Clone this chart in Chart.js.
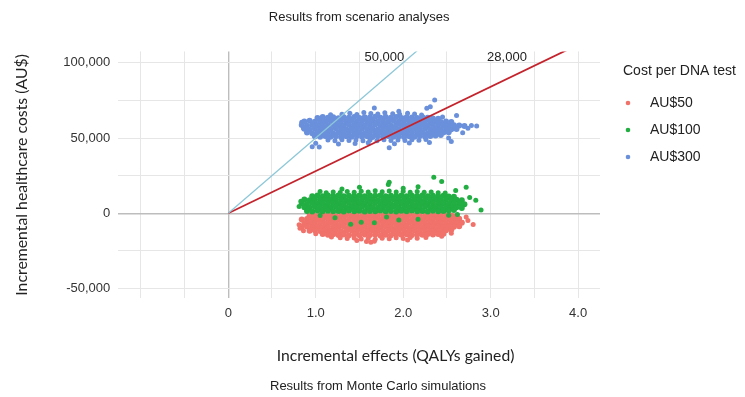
<!DOCTYPE html>
<html><head><meta charset="utf-8">
<script src="https://cdn.jsdelivr.net/npm/chart.js@4.4.1/dist/chart.umd.min.js"></script>
<style>html,body{margin:0;padding:0;background:#fff}#wrap{width:745px;height:397px}</style>
</head><body><div id="wrap"><canvas id="c" width="745" height="397"></canvas></div>
<script>
const chartTitle = 'Results from scenario analyses';
const chartCaption = 'Results from Monte Carlo simulations';
const xAxisTitle = 'Incremental effects (QALYs gained)';
const yAxisTitle = 'Incremental healthcare costs (AU$)';
const legendTitle = 'Cost per DNA test';
const seriesLabels = ['AU$50', 'AU$100', 'AU$300'];
const seriesColors = ['#F0726A', '#22AE42', '#6A90DC'];
const xTickValues = [0, 1, 2, 3, 4];
const xTickLabels = ['0', '1.0', '2.0', '3.0', '4.0'];
const yTickValues = [-50000, 0, 50000, 100000];
const yTickLabels = ['-50,000', '0', '50,000', '100,000'];
const wtpThresholds = [50000, 28000];
const wtpLabels = ['50,000', '28,000'];
const wtpColors = ['#8CC7D8', '#C4232C'];

// Monte Carlo points: [QALYs gained, incremental cost in thousand AU$]
// dense core of each cloud
const au50Core = [
[0.93,-1.4],[0.99,-1.8],[1.05,-1.3],[1.11,-1.7],[1.17,-1.4],[1.23,-1.9],[1.29,-1.5],[1.35,-1.2],[1.41,-1.7],[1.47,-1.4],[1.53,-1.8],[1.59,-1.3],[1.65,-1.6],[1.71,-1.2],[1.77,-1.7],[1.83,-1.4],[1.89,-1.8],[1.95,-1.3],[2.01,-1.6],[2.07,-1.2],[2.13,-1.7],[2.19,-1.4],[2.25,-1.8],[2.31,-1.3],[2.37,-1.6],[2.43,-1.2],[2.49,-1.7],[2.55,-1.4],[2.61,-1.8],
[0.84,-4.1],[0.90,-3.7],[0.96,-4.3],[1.02,-3.9],[1.08,-4.2],[1.14,-3.8],[1.20,-4.4],[1.26,-4.0],[1.32,-3.7],[1.38,-4.2],[1.44,-3.9],[1.50,-4.3],[1.56,-3.8],[1.62,-4.1],[1.68,-3.7],[1.74,-4.2],[1.80,-3.9],[1.86,-4.3],[1.92,-3.8],[1.98,-4.1],[2.04,-3.7],[2.10,-4.2],[2.16,-3.9],[2.22,-4.3],[2.28,-3.8],[2.34,-4.0],[2.40,-3.7],[2.46,-4.1],[2.52,-3.8],[2.58,-4.0],[2.64,-3.6],
[0.87,-6.6],[0.93,-6.2],[0.99,-6.8],[1.05,-6.4],[1.11,-6.7],[1.17,-6.3],[1.23,-6.9],[1.29,-6.5],[1.35,-6.2],[1.41,-6.8],[1.47,-6.4],[1.53,-6.7],[1.59,-6.3],[1.65,-6.6],[1.71,-6.9],[1.77,-6.4],[1.83,-6.7],[1.89,-6.2],[1.95,-6.6],[2.01,-6.8],[2.07,-6.3],[2.13,-6.7],[2.19,-6.4],[2.25,-6.8],[2.31,-6.3],[2.37,-6.6],[2.43,-6.4],[2.49,-6.7],[2.55,-6.2],[2.61,-6.5],[2.67,-6.3],
[0.84,-9.1],[0.90,-8.7],[0.96,-9.3],[1.02,-8.9],[1.08,-9.2],[1.14,-8.8],[1.20,-9.4],[1.26,-9.0],[1.32,-8.7],[1.38,-9.2],[1.44,-8.9],[1.50,-9.3],[1.56,-8.8],[1.62,-9.1],[1.68,-8.7],[1.74,-9.2],[1.80,-8.9],[1.86,-9.3],[1.92,-8.8],[1.98,-9.1],[2.04,-8.7],[2.10,-9.2],[2.16,-8.9],[2.22,-9.3],[2.28,-8.8],[2.34,-9.0],[2.40,-8.7],[2.46,-9.1],[2.52,-8.8],[2.58,-9.0],[2.64,-8.6],
[0.93,-11.6],[0.99,-11.2],[1.05,-11.8],[1.11,-11.4],[1.17,-11.7],[1.23,-11.3],[1.29,-11.9],[1.35,-11.5],[1.41,-11.2],[1.47,-11.8],[1.53,-11.4],[1.59,-11.7],[1.65,-11.3],[1.71,-11.6],[1.77,-11.9],[1.83,-11.4],[1.89,-11.7],[1.95,-11.2],[2.01,-11.6],[2.07,-11.8],[2.13,-11.3],[2.19,-11.7],[2.25,-11.4],[2.31,-11.8],[2.37,-11.3],[2.43,-11.6],[2.49,-11.2],[2.55,-11.0],
[1.08,-13.8],[1.14,-14.2],[1.20,-13.9],[1.26,-14.4],[1.32,-14.0],[1.38,-14.5],[1.44,-14.1],[1.50,-14.6],[1.56,-14.0],[1.62,-14.4],[1.68,-14.1],[1.74,-14.7],[1.80,-14.2],[1.86,-14.5],[1.92,-14.0],[1.98,-14.3],[2.04,-13.9],[2.10,-14.4],[2.16,-14.0],[2.22,-14.2],[2.28,-13.8],[2.34,-14.1],[2.40,-13.7],[2.46,-13.5]
];
// scattered fringe / outlying simulations
const au50Outliers = [
[1.28,-16.2],[1.36,-16.8],[1.44,-16.4],[1.52,-17.0],[1.60,-16.6],[1.68,-17.2],[1.76,-16.5],[1.84,-16.9],[1.92,-16.3],[2.00,-16.8],[2.08,-16.1],[2.16,-16.6],[2.26,-16.0],
[1.63,-19.3],[1.67,-18.6],[1.47,-18.0],[1.58,-18.7],[2.05,-17.8],[2.44,-15.2],[2.80,-7.5],[2.67,-6.0],[2.74,-4.8],[2.72,-2.5],[0.82,-10.0],[0.86,-11.5],[0.81,-7.6],[1.00,-13.5],[1.18,-15.8],[2.55,-13.2]
];
const au100Core = [
[0.96,11.3],[1.02,11.8],[1.08,11.4],[1.14,11.9],[1.20,11.5],[1.26,11.8],[1.32,11.3],[1.38,11.7],[1.44,11.5],[1.50,11.9],[1.56,11.4],[1.62,11.8],[1.68,11.6],[1.74,11.9],[1.80,11.4],[1.86,11.7],[1.92,11.5],[1.98,11.8],[2.04,11.3],[2.10,11.7],[2.16,11.5],[2.22,11.8],[2.28,11.3],[2.34,11.6],[2.40,11.4],[2.46,11.7],[2.52,11.2],[2.58,11.0],
[0.87,9.1],[0.93,8.7],[0.99,9.3],[1.05,8.9],[1.11,9.2],[1.17,8.8],[1.23,9.4],[1.29,9.0],[1.35,8.7],[1.41,9.2],[1.47,8.9],[1.53,9.3],[1.59,8.8],[1.65,9.1],[1.71,8.7],[1.77,9.2],[1.83,8.9],[1.89,9.3],[1.95,8.8],[2.01,9.1],[2.07,8.7],[2.13,9.2],[2.19,8.9],[2.25,9.3],[2.31,8.8],[2.37,9.0],[2.43,8.7],[2.49,9.1],[2.55,8.8],[2.61,9.0],[2.67,8.6],
[0.84,6.6],[0.90,6.2],[0.96,6.8],[1.02,6.4],[1.08,6.7],[1.14,6.3],[1.20,6.9],[1.26,6.5],[1.32,6.2],[1.38,6.8],[1.44,6.4],[1.50,6.7],[1.56,6.3],[1.62,6.6],[1.68,6.9],[1.74,6.4],[1.80,6.7],[1.86,6.2],[1.92,6.6],[1.98,6.8],[2.04,6.3],[2.10,6.7],[2.16,6.4],[2.22,6.8],[2.28,6.3],[2.34,6.6],[2.40,6.4],[2.46,6.7],[2.52,6.2],[2.58,6.5],[2.64,6.3],[2.70,6.0],
[0.87,4.1],[0.93,3.7],[0.99,4.3],[1.05,3.9],[1.11,4.2],[1.17,3.8],[1.23,4.4],[1.29,4.0],[1.35,3.7],[1.41,4.2],[1.47,3.9],[1.53,4.3],[1.59,3.8],[1.65,4.1],[1.71,3.7],[1.77,4.2],[1.83,3.9],[1.89,4.3],[1.95,3.8],[2.01,4.1],[2.07,3.7],[2.13,4.2],[2.19,3.9],[2.25,4.3],[2.31,3.8],[2.37,4.0],[2.43,3.7],[2.49,4.1],[2.55,3.8],[2.61,4.0],[2.67,3.6],
[0.90,1.6],[0.96,1.2],[1.02,1.8],[1.08,1.4],[1.14,1.7],[1.20,1.3],[1.26,1.6],[1.32,1.2],[1.38,1.8],[1.44,1.4],[1.50,1.7],[1.56,1.2],[1.62,1.6],[1.68,1.3],[1.74,1.8],[1.80,1.4],[1.86,1.6],[1.92,1.2],[1.98,1.7],[2.04,1.4],[2.10,1.8],[2.16,1.3],[2.22,1.6],[2.28,1.2],[2.34,1.7],[2.40,1.4],[2.46,1.6],[2.52,1.9],[2.58,2.2]
];
const au100Outliers = [
[1.12,13.6],[1.20,14.2],[1.28,13.8],[1.36,14.5],[1.44,14.0],[1.52,14.7],[1.60,14.2],[1.68,14.9],[1.76,14.3],[1.84,14.8],[1.92,14.1],[2.00,14.6],[2.08,14.0],[2.16,14.5],[2.24,13.9],[2.32,14.2],[2.40,13.7],[2.48,13.4],
[2.35,24.0],[2.44,21.2],[1.84,20.7],[1.83,19.2],[1.50,17.3],[2.17,17.7],[2.72,17.3],[2.60,15.2],[1.30,16.1],[2.00,16.6],[1.05,14.4],[2.83,8.7],[2.89,2.2],[2.76,10.5],[0.81,4.5],[0.83,8.0],[1.40,-7.3],[1.52,-6.0],[1.67,-6.2],[1.95,-4.5],[2.17,-4.0],[2.52,-1.3],[1.22,-3.0],[1.81,-2.5],[2.62,-0.8],[1.05,-1.5]
];
const au300Core = [
[1.02,63.2],[1.08,63.9],[1.14,63.4],[1.20,63.8],[1.26,63.1],[1.32,63.7],[1.38,63.5],[1.44,64.0],[1.50,63.3],[1.56,63.8],[1.62,63.6],[1.68,64.1],[1.74,63.4],[1.80,63.9],[1.86,63.5],[1.92,64.0],[1.98,63.3],[2.04,63.7],[2.10,63.6],[2.16,63.2],[2.22,63.8],[2.28,63.4],[2.34,63.0],[2.40,62.8],
[0.87,61.0],[0.93,61.4],[0.99,60.8],[1.05,61.3],[1.11,61.0],[1.17,61.5],[1.23,60.9],[1.29,61.2],[1.35,61.0],[1.41,61.4],[1.47,60.8],[1.53,61.3],[1.59,61.1],[1.65,61.5],[1.71,60.9],[1.77,61.2],[1.83,61.0],[1.89,61.4],[1.95,60.8],[2.01,61.3],[2.07,61.0],[2.13,61.4],[2.19,60.9],[2.25,61.2],[2.31,60.8],[2.37,61.1],[2.43,60.7],[2.49,61.0],[2.55,60.6],
[0.84,58.6],[0.90,58.2],[0.96,58.8],[1.02,58.4],[1.08,58.7],[1.14,58.3],[1.20,58.9],[1.26,58.5],[1.32,58.2],[1.38,58.8],[1.44,58.4],[1.50,58.7],[1.56,58.3],[1.62,58.6],[1.68,58.9],[1.74,58.4],[1.80,58.7],[1.86,58.2],[1.92,58.6],[1.98,58.8],[2.04,58.3],[2.10,58.7],[2.16,58.4],[2.22,58.8],[2.28,58.3],[2.34,58.6],[2.40,58.4],[2.46,58.7],[2.52,58.2],[2.58,58.5],[2.64,58.3],[2.70,58.0],
[0.87,56.1],[0.93,55.7],[0.99,56.3],[1.05,55.9],[1.11,56.2],[1.17,55.8],[1.23,56.4],[1.29,56.0],[1.35,55.7],[1.41,56.2],[1.47,55.9],[1.53,56.3],[1.59,55.8],[1.65,56.1],[1.71,55.7],[1.77,56.2],[1.83,55.9],[1.89,56.3],[1.95,55.8],[2.01,56.1],[2.07,55.7],[2.13,56.2],[2.19,55.9],[2.25,56.3],[2.31,55.8],[2.37,56.0],[2.43,55.7],[2.49,56.1],[2.55,55.8],[2.61,56.0],
[0.90,53.6],[0.96,53.2],[1.02,53.8],[1.08,53.4],[1.14,53.7],[1.20,53.2],[1.26,53.6],[1.32,53.3],[1.38,53.8],[1.44,53.4],[1.50,53.7],[1.56,53.2],[1.62,53.6],[1.68,53.3],[1.74,53.8],[1.80,53.4],[1.86,53.6],[1.92,53.2],[1.98,53.7],[2.04,53.4],[2.10,53.8],[2.16,53.3],[2.22,53.6],[2.28,53.2],[2.34,53.7],[2.40,53.4],[2.46,53.6],[2.52,53.9],
[0.99,51.2],[1.05,50.8],[1.11,51.3],[1.17,50.9],[1.23,51.1],[1.29,50.7],[1.35,51.2],[1.41,50.9],[1.47,51.3],[1.53,50.8],[1.59,51.1],[1.65,50.7],[1.71,51.2],[1.77,50.9],[1.83,51.3],[1.89,50.8],[1.95,51.1],[2.01,50.7],[2.07,51.2],[2.13,50.9],[2.19,51.3],[2.25,51.0],[2.31,51.4],[2.37,51.7],[2.43,52.0]
];
const au300Outliers = [
[1.30,65.8],[1.39,66.4],[1.47,65.6],[1.55,66.9],[1.63,66.2],[1.71,65.9],[1.79,66.7],[1.88,66.1],[1.96,65.7],[2.05,66.5],[2.13,65.9],[2.21,65.2],
[1.14,48.6],[1.22,48.2],[1.30,48.8],[1.38,48.3],[1.46,48.7],[1.54,48.1],[1.62,48.6],[1.70,48.2],[1.78,48.8],[1.86,48.3],[1.94,48.7],[2.02,48.4],[2.10,48.9],[2.18,48.5],[2.26,49.0],
[1.00,46.5],[1.04,44.0],[0.96,44.2],[1.26,46.0],[1.45,46.3],[1.60,46.8],[1.84,43.5],[1.90,46.2],[2.07,46.6],[2.30,47.0],[2.52,50.0],[2.55,47.6],[2.68,53.5],[2.78,58.3],[2.84,58.0],[2.74,56.5],[2.61,65.0],[2.45,64.0],[2.36,75.3],[2.31,70.7],[2.27,69.8],[1.67,70.0],[1.95,67.8],[1.17,65.4],[0.84,60.5],[0.86,56.5]
];

const X_MIN = -1.257, X_MAX = 4.25, Y_MIN = -56500, Y_MAX = 107500;
const X_GRID_STEP = 0.5, Y_GRID_STEP = 25000;
const SANS = '"Liberation Sans", Arial, sans-serif';
Chart.defaults.font.family = SANS;
Chart.defaults.color = '#333';

const toXY = pts => pts.map(p => ({ x: p[0], y: p[1] * 1000 }));
const seriesCore = [au50Core, au100Core, au300Core];
const seriesOutliers = [au50Outliers, au100Outliers, au300Outliers];

const datasets = [];
wtpThresholds.forEach((w, i) => {
  datasets.push({
    type: 'scatter', label: 'WTP ' + wtpLabels[i], showLine: true,
    data: [{ x: 0, y: 0 }, { x: X_MAX, y: w * X_MAX }],
    borderColor: wtpColors[i], borderWidth: i === 0 ? 1.3 : 1.8,
    pointRadius: 0, order: 0, clip: 0
  });
});
seriesCore.forEach((core, i) => {
  const n = core.length;
  datasets.push({
    type: 'scatter', label: seriesLabels[i],
    data: toXY(core.concat(seriesOutliers[i])),
    pointRadius: ctx => ctx.dataIndex < n ? 3.0 : 2.5,
    pointBorderWidth: 0,
    pointBackgroundColor: seriesColors[i], pointBorderColor: seriesColors[i],
    backgroundColor: seriesColors[i], borderColor: seriesColors[i],
    order: 3 - i
  });
});

const gridColor = ctx => (ctx.tick && ctx.tick.value === 0) ? '#BDBDBD' : '#E6E6E6';
const gridWidth = ctx => (ctx.tick && ctx.tick.value === 0) ? 1.4 : 1;
const gridTicks = (lo, hi, step) => {
  const t = [];
  for (let k = Math.ceil(lo / step); k * step <= hi; k++) t.push({ value: Math.round(k * step * 1000) / 1000 });
  return t;
};

const annotPlugin = {
  id: 'annot',
  afterDatasetsDraw(chart) {
    const ctx = chart.ctx, xs = chart.scales.x, area = chart.chartArea;
    ctx.save();
    ctx.font = '13px ' + SANS;
    ctx.fillStyle = '#222';
    ctx.textAlign = 'center';
    ctx.textBaseline = 'middle';
    wtpThresholds.forEach((w, i) => {
      const xv = 0.83 * Y_MAX / w;
      ctx.fillText(wtpLabels[i], xs.getPixelForValue(xv), area.top + 6.5);
    });
    ctx.restore();
  },
  afterDraw(chart) {
    const ctx = chart.ctx;
    ctx.save();
    ctx.textBaseline = 'middle';
    ctx.fillStyle = '#222';
    ctx.textAlign = 'center';
    ctx.font = '15.7px Lato';
    ctx.fillText(xAxisTitle, 395.5, 356);
    ctx.font = '13px ' + SANS;
    ctx.fillText(chartCaption, 378, 386);
    ctx.textAlign = 'left';
    ctx.font = '14px ' + SANS;
    ctx.fillText(legendTitle, 623, 71);
    seriesLabels.forEach((lab, i) => {
      const y = 103 + i * 27;
      ctx.beginPath();
      ctx.arc(628, y, 2.3, 0, Math.PI * 2);
      ctx.fillStyle = seriesColors[i];
      ctx.fill();
      ctx.fillStyle = '#222';
      ctx.fillText(lab, 650, y);
    });
    ctx.restore();
  }
};

new Chart(document.getElementById('c'), {
  type: 'scatter',
  data: { datasets },
  options: {
    responsive: false, animation: false, events: [],
    layout: { padding: { left: 0, right: 145, top: 0, bottom: 0 } },
    plugins: {
      legend: { display: false },
      tooltip: { enabled: false },
      title: {
        display: true, text: chartTitle, fullSize: false, color: '#222',
        font: { size: 13, weight: 'normal', family: SANS },
        padding: { top: 10, bottom: 25.8 }
      }
    },
    scales: {
      x: {
        type: 'linear', min: X_MIN, max: X_MAX,
        border: { display: false },
        grid: { color: gridColor, lineWidth: gridWidth, drawTicks: false },
        afterBuildTicks: s => { s.ticks = gridTicks(X_MIN, X_MAX, X_GRID_STEP); },
        ticks: {
          autoSkip: false, maxRotation: 0,
          padding: 7, color: '#333', font: { size: 13, family: SANS },
          callback: v => { const i = xTickValues.indexOf(v); return i >= 0 ? xTickLabels[i] : ''; }
        },
        afterFit: s => { s.height = 98.6; }
      },
      y: {
        type: 'linear', min: Y_MIN, max: Y_MAX,
        border: { display: false },
        grid: { color: gridColor, lineWidth: gridWidth, drawTicks: false },
        afterBuildTicks: s => { s.ticks = gridTicks(Y_MIN, Y_MAX, Y_GRID_STEP); },
        ticks: {
          autoSkip: false,
          padding: 8, color: '#333', font: { size: 13, family: SANS },
          callback: v => { const i = yTickValues.indexOf(v); return i >= 0 ? yTickLabels[i] : ''; }
        },
        title: {
          display: true, text: yAxisTitle, color: '#222',
          font: { size: 15.8, family: 'Lato' }, padding: { top: 12, bottom: 0 }
        },
        afterFit: s => { s.width = 118.3; }
      }
    }
  },
  plugins: [annotPlugin]
});
</script></body></html>
